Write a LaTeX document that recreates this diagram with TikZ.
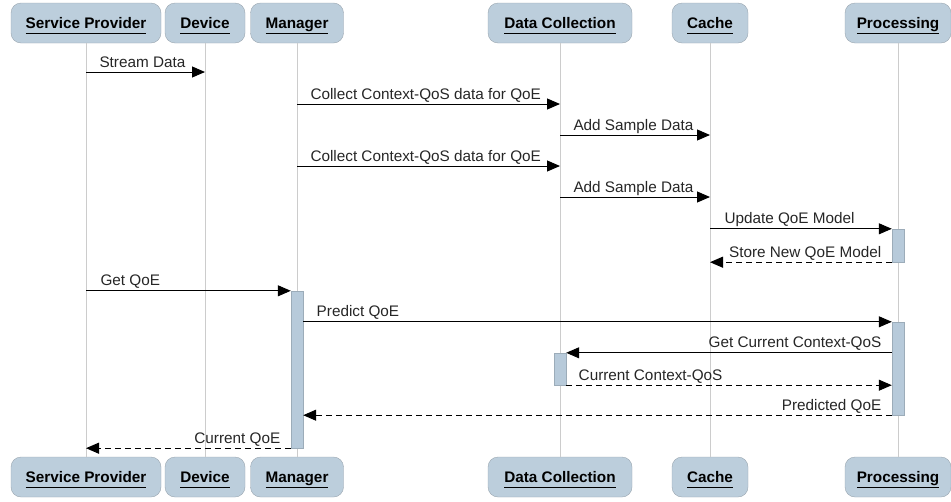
\documentclass[tikz,border=0pt]{standalone}
\usepackage{fontspec}
\setmainfont{Liberation Sans}
\usetikzlibrary{arrows.meta}
\definecolor{boxfill}{HTML}{BCCEDC}
\definecolor{boxline}{HTML}{9AA6B0}
\definecolor{barfill}{HTML}{B7CADA}
\definecolor{lifeline}{HTML}{CCCCCC}
% underlined participant name, same rule depth for every name
\newcommand{\actorname}[1]{\underline{#1\vphantom{g}}}
\begin{document}
\begin{tikzpicture}[x=1pt,y=-1pt,
    actor/.style={draw=boxline, fill=boxfill, rounded corners=10pt, minimum height=40pt, inner sep=0pt,
      text height=17pt, text depth=6pt, font=\fontsize{15.3pt}{18pt}\selectfont\bfseries},
    bar/.style={draw=barfill!85!black, fill=barfill, minimum width=12pt, inner sep=0pt},
    msg/.style={-{Triangle[length=13pt,width=11pt]}, line width=1pt},
    reply/.style={msg, dash pattern=on 6pt off 4pt},
    lbl/.style={inner sep=0pt, text=black!85, font=\fontsize{15.3pt}{18pt}\selectfont}]
  \useasboundingbox (0,0) rectangle (951,501);

  % participants, top and bottom
  \node[actor, minimum width=150pt] (sp)    at (86,23)  {\actorname{Service Provider}};
  \node[actor, minimum width=80pt]  (dev)   at (205,23) {\actorname{Device}};
  \node[actor, minimum width=93pt]  (mgr)   at (297,23) {\actorname{Manager}};
  \node[actor, minimum width=144pt] (dc)    at (560,23) {\actorname{Data Collection}};
  \node[actor, minimum width=76pt]  (cache) at (710,23) {\actorname{Cache}};
  \node[actor, minimum width=106pt] (proc)  at (898,23) {\actorname{Processing}};

  \node[actor, minimum width=150pt] (spB)    at (86,477)  {\actorname{Service Provider}};
  \node[actor, minimum width=80pt]  (devB)   at (205,477) {\actorname{Device}};
  \node[actor, minimum width=93pt]  (mgrB)   at (297,477) {\actorname{Manager}};
  \node[actor, minimum width=144pt] (dcB)    at (560,477) {\actorname{Data Collection}};
  \node[actor, minimum width=76pt]  (cacheB) at (710,477) {\actorname{Cache}};
  \node[actor, minimum width=106pt] (procB)  at (898,477) {\actorname{Processing}};

  % lifelines
  \foreach \p in {sp,dev,mgr,dc,cache,proc}
    \draw[lifeline, line width=0.7pt] (\p.south) -- (\p B.north);

  % activations
  \node[bar, minimum height=33pt]  (procA) at (898,245.5) {};
  \node[bar, minimum height=157pt] (mgrA)  at (297,369.5) {};
  \node[bar, minimum height=93pt]  (procB2) at (898,368.5) {};
  \node[bar, minimum height=32pt]  (dcA)   at (560,369)   {};

  % messages
  \draw[msg] (sp |- 0,72) -- node[lbl, at start, anchor=base west, xshift=13pt, yshift=5pt] {Stream Data} (dev |- 0,72);
  \draw[msg] (mgr |- 0,104) -- node[lbl, at start, anchor=base west, xshift=13pt, yshift=5pt] {Collect Context-QoS data for QoE} (dc |- 0,104);
  \draw[msg] (dc |- 0,135) -- node[lbl, at start, anchor=base west, xshift=13pt, yshift=5pt] {Add Sample Data} (cache |- 0,135);
  \draw[msg] (mgr |- 0,166) -- node[lbl, at start, anchor=base west, xshift=13pt, yshift=5pt] {Collect Context-QoS data for QoE} (dc |- 0,166);
  \draw[msg] (dc |- 0,197) -- node[lbl, at start, anchor=base west, xshift=13pt, yshift=5pt] {Add Sample Data} (cache |- 0,197);
  \draw[msg] (cache |- procA.north) -- node[lbl, at start, anchor=base west, xshift=14pt, yshift=5pt] {Update QoE Model} (procA.north west);
  \draw[reply] (procA.south west) -- node[lbl, at start, anchor=base east, xshift=-10pt, yshift=5pt] {Store New QoE Model} (cache |- procA.south);
  \draw[msg] (sp |- mgrA.north) -- node[lbl, at start, anchor=base west, xshift=14pt, yshift=5pt] {Get QoE} (mgrA.north west);
  \draw[msg] (mgrA.east |- procB2.north) -- node[lbl, at start, anchor=base west, xshift=13pt, yshift=5pt] {Predict QoE} (procB2.north west);
  \draw[msg] (procB2.west |- dcA.north) -- node[lbl, at start, anchor=base east, xshift=-10pt, yshift=5pt] {Get Current Context-QoS} (dcA.north east);
  \draw[reply] (dcA.south east) -- node[lbl, at start, anchor=base west, xshift=12pt, yshift=5pt] {Current Context-QoS} (procB2.west |- dcA.south);
  \draw[reply] (procB2.south west) -- node[lbl, at start, anchor=base east, xshift=-10pt, yshift=5pt] {Predicted QoE} (mgrA.east |- procB2.south);
  \draw[reply] (mgrA.south west) -- node[lbl, at start, anchor=base east, xshift=-10pt, yshift=5pt] {Current QoE} (sp |- mgrA.south);
\end{tikzpicture}
\end{document}
